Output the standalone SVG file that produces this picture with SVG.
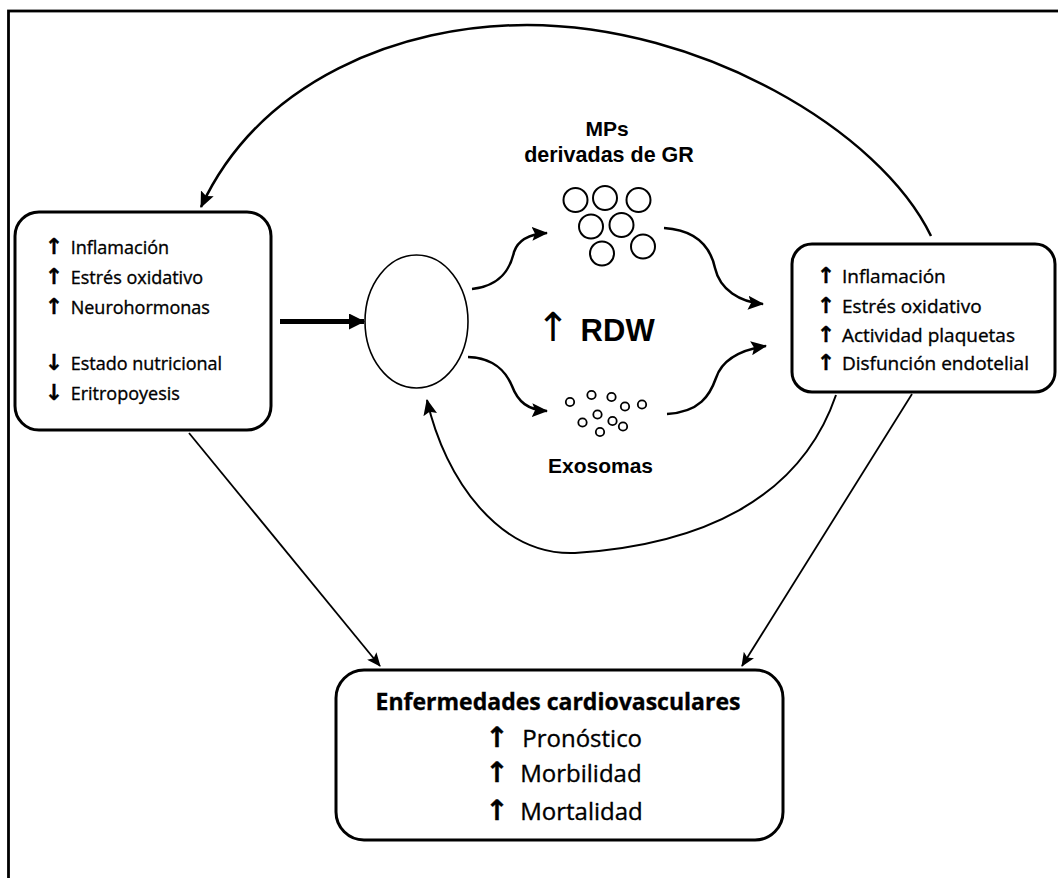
<svg xmlns="http://www.w3.org/2000/svg" width="1058" height="878" viewBox="0 0 1058 878">
<style>
.box{fill:#fff;stroke:#000;stroke-width:3}
.t{font-family:"Open Sans","Liberation Sans",sans-serif;fill:#000;stroke:#000;stroke-width:0.35}
.ar{font-family:"DejaVu Sans",sans-serif;font-weight:bold;fill:#000;text-anchor:middle}
.b{font-family:"Liberation Sans",Arial,sans-serif;font-weight:bold;fill:#000;text-anchor:middle}
.c{fill:none;stroke:#000}
.mp{fill:#fff;stroke:#000;stroke-width:2}
.ex{fill:#fff;stroke:#000;stroke-width:1.8}
</style>
<defs>
<marker id="ah" viewBox="0 0 16 14" refX="15" refY="7" markerWidth="16" markerHeight="14" markerUnits="userSpaceOnUse" orient="auto">
<path d="M0,0 L16,7 L0,14 L3,7 z" fill="#000"/>
</marker>
<marker id="ahs" viewBox="0 0 14 12" refX="13" refY="6" markerWidth="14" markerHeight="12" markerUnits="userSpaceOnUse" orient="auto">
<path d="M0,0 L14,6 L0,12 L3,6 z" fill="#000"/>
</marker>
<marker id="ahb" viewBox="0 0 16 16" refX="15" refY="8" markerWidth="16" markerHeight="16" markerUnits="userSpaceOnUse" orient="auto">
<path d="M0,0 L16,8 L0,16 z" fill="#000"/>
</marker>
</defs>
<rect width="1058" height="878" fill="#fff"/>
<rect x="8.5" y="11" width="1200" height="1000" fill="none" stroke="#000" stroke-width="2.8"/>

<g id="connectors">
<path class="c" stroke-width="2.5" d="M 931 236 C 880 130, 700 25, 527 25 C 400 25, 260 80, 201 207" marker-end="url(#ah)"/>
<path class="c" stroke-width="5" d="M 280 321.5 L 364 321.5" marker-end="url(#ahb)"/>
<path class="c" stroke-width="2.5" d="M 472 289 C 500 286, 510 270, 514 252 C 518 240, 530 234, 547 233" marker-end="url(#ah)"/>
<path class="c" stroke-width="2.5" d="M 468 357 C 495 358, 506 372, 512 386 C 518 402, 528 410, 547 411" marker-end="url(#ah)"/>
<path class="c" stroke-width="2.5" d="M 664 228 C 695 230, 710 245, 715 268 C 720 290, 740 302, 763 304" marker-end="url(#ah)"/>
<path class="c" stroke-width="2.5" d="M 667 414 C 700 412, 710 395, 716 378 C 722 360, 740 350, 766 346" marker-end="url(#ah)"/>
<path class="c" stroke-width="2" d="M 836 395 C 800 500, 700 545, 575 553 C 500 556, 445 480, 427 400" marker-end="url(#ah)"/>
<path class="c" stroke-width="1.8" d="M 189 433 L 380 666" marker-end="url(#ahs)"/>
<path class="c" stroke-width="1.8" d="M 912 394 L 742 666" marker-end="url(#ahs)"/>
</g>

<g id="left-box">
<rect class="box" x="15" y="212" width="256" height="218" rx="24"/>
<text class="t" font-size="18" y="254"><tspan class="ar" font-size="22" x="54">↑</tspan><tspan x="66"> Inflamación</tspan></text>
<text class="t" font-size="18" y="284"><tspan class="ar" font-size="22" x="54">↑</tspan><tspan x="66"> Estrés oxidativo</tspan></text>
<text class="t" font-size="18" y="313.5"><tspan class="ar" font-size="22" x="54">↑</tspan><tspan x="66"> Neurohormonas</tspan></text>
<text class="t" font-size="18" y="369.5"><tspan class="ar" font-size="22" x="54">↓</tspan><tspan x="66"> Estado nutricional</tspan></text>
<text class="t" font-size="18" y="399.5"><tspan class="ar" font-size="22" x="54">↓</tspan><tspan x="66"> Eritropoyesis</tspan></text>
</g>

<g id="rbc">
<ellipse cx="416.5" cy="321.5" rx="51.5" ry="66.5" fill="#fff" stroke="#000" stroke-width="1.6"/>
</g>

<g id="mps">
<text class="b" font-size="21" x="607" y="136">MPs</text>
<text class="b" font-size="21.5" x="609" y="161.5">derivadas de GR</text>
<circle class="mp" cx="575.5" cy="200" r="12"/>
<circle class="mp" cx="605" cy="198" r="12"/>
<circle class="mp" cx="638.5" cy="200" r="12"/>
<circle class="mp" cx="591" cy="226.5" r="12"/>
<circle class="mp" cx="621.5" cy="225" r="12"/>
<circle class="mp" cx="602" cy="253.5" r="12"/>
<circle class="mp" cx="643" cy="246.5" r="12"/>
</g>

<g id="rdw">
<text font-family="Liberation Sans, Arial, sans-serif" font-weight="bold" font-size="31" y="341"><tspan font-family="DejaVu Sans, sans-serif" font-weight="normal" font-size="40" x="553" text-anchor="middle">↑</tspan><tspan x="572"> RDW</tspan></text>
</g>

<g id="exosomes">
<circle class="ex" cx="570" cy="402" r="4.2"/>
<circle class="ex" cx="591.5" cy="395" r="4.2"/>
<circle class="ex" cx="611.5" cy="397" r="4.2"/>
<circle class="ex" cx="625" cy="406.5" r="4.2"/>
<circle class="ex" cx="642" cy="404.5" r="4.2"/>
<circle class="ex" cx="597.5" cy="414.5" r="4.2"/>
<circle class="ex" cx="582.5" cy="422.5" r="4.2"/>
<circle class="ex" cx="612.5" cy="421" r="4.2"/>
<circle class="ex" cx="623" cy="426.5" r="4.2"/>
<circle class="ex" cx="600" cy="432" r="4.2"/>
<text class="b" font-size="21" x="600.5" y="472.5">Exosomas</text>
</g>

<g id="right-box">
<rect class="box" x="792" y="244" width="263" height="148" rx="20"/>
<text class="t" font-size="19" y="283"><tspan class="ar" font-size="22" x="826">↑</tspan><tspan x="837"> Inflamación</tspan></text>
<text class="t" font-size="19" y="313"><tspan class="ar" font-size="22" x="826">↑</tspan><tspan x="837"> Estrés oxidativo</tspan></text>
<text class="t" font-size="19" y="342"><tspan class="ar" font-size="22" x="826">↑</tspan><tspan x="837"> Actividad plaquetas</tspan></text>
<text class="t" font-size="19" y="370"><tspan class="ar" font-size="22" x="826">↑</tspan><tspan x="837"> Disfunción endotelial</tspan></text>
</g>

<g id="outcome-box">
<rect class="box" x="336" y="670" width="447" height="170" rx="28" stroke-width="4.5"/>
<text class="t" font-size="23" font-weight="bold" x="558" y="710" text-anchor="middle">Enfermedades cardiovasculares</text>
<text class="t" font-size="24" y="747"><tspan class="ar" font-size="28" x="497">↑</tspan><tspan x="516"> Pronóstico</tspan></text>
<text class="t" font-size="24" y="782"><tspan class="ar" font-size="28" x="497">↑</tspan><tspan x="514"> Morbilidad</tspan></text>
<text class="t" font-size="24" y="819.5"><tspan class="ar" font-size="28" x="497">↑</tspan><tspan x="514"> Mortalidad</tspan></text>
</g>
</svg>
